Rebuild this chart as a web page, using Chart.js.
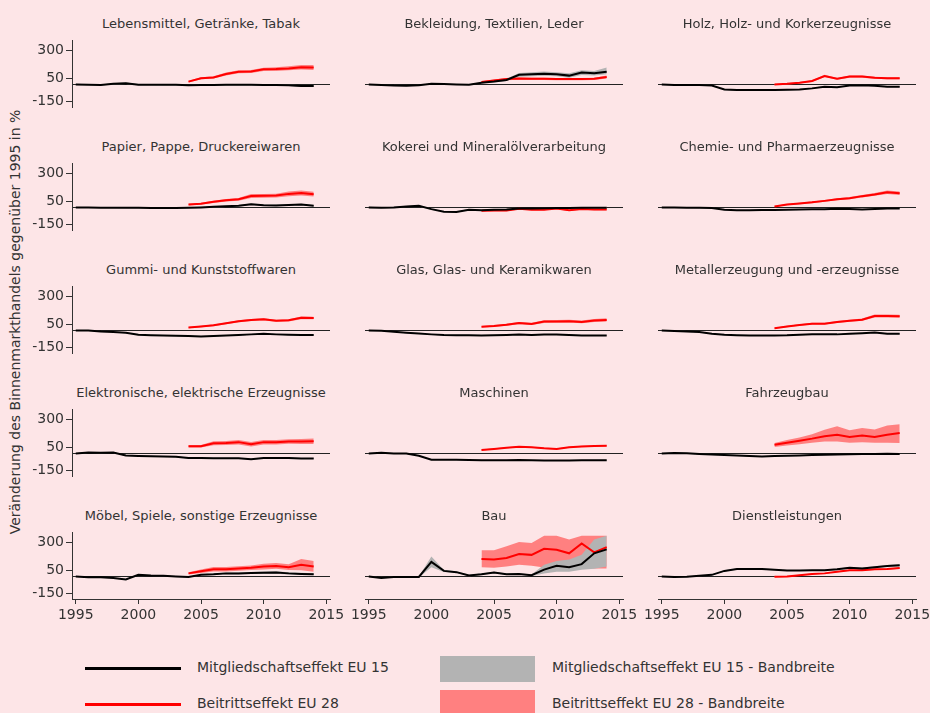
<!DOCTYPE html>
<html lang="de">
<head>
<meta charset="utf-8">
<script src="https://cdn.jsdelivr.net/npm/chart.js@4"></script>
<style>
  html, body { margin: 0; padding: 0; background: #fde5e7; }
  #wrap { position: relative; width: 930px; height: 713px; overflow: hidden; background: #fde5e7;
          font-family: "DejaVu Sans", sans-serif; color: #333; }
  canvas { position: absolute; }
  .ptitle { position: absolute; width: 320px; text-align: center; font-size: 13px; white-space: nowrap; }
  .ytitle { position: absolute; width: 560px; height: 18px; left: -264px; top: 313px; text-align: center;
            font-size: 14px; transform: rotate(-90deg); white-space: nowrap; }
  .leg { position: absolute; font-size: 14px; white-space: nowrap; }
  .legline { position: absolute; height: 3px; }
  .legbox { position: absolute; }
</style>
</head>
<body>
<div id="wrap">
  <div class="ytitle">Veränderung des Binnenmarkthandels gegenüber 1995 in %</div>
  <div class="legline" style="left:85px;top:667px;width:96px;background:#000"></div>
  <div class="leg" style="left:197px;top:659px">Mitgliedschaftseffekt EU 15</div>
  <div class="legline" style="left:85px;top:703px;width:96px;background:#ff0000"></div>
  <div class="leg" style="left:197px;top:695px">Beitrittseffekt EU 28</div>
  <div class="legbox" style="left:440px;top:656px;width:95px;height:26px;background:#b3b3b3"></div>
  <div class="leg" style="left:552px;top:659px">Mitgliedschaftseffekt EU 15 - Bandbreite</div>
  <div class="legbox" style="left:440px;top:690px;width:95px;height:26px;background:#ff8080"></div>
  <div class="leg" style="left:552px;top:695px">Beitrittseffekt EU 28 - Bandbreite</div>
</div>
<script>
// Panel titles (row by row, left to right)
const titles = [
  'Lebensmittel, Getränke, Tabak', 'Bekleidung, Textilien, Leder', 'Holz, Holz- und Korkerzeugnisse',
  'Papier, Pappe, Druckereiwaren', 'Kokerei und Mineralölverarbeitung', 'Chemie- und Pharmaerzeugnisse',
  'Gummi- und Kunststoffwaren', 'Glas, Glas- und Keramikwaren', 'Metallerzeugung und -erzeugnisse',
  'Elektronische, elektrische Erzeugnisse', 'Maschinen', 'Fahrzeugbau',
  'Möbel, Spiele, sonstige Erzeugnisse', 'Bau', 'Dienstleistungen'
];

const years = [1995,1996,1997,1998,1999,2000,2001,2002,2003,2004,2005,2006,2007,2008,2009,2010,2011,2012,2013,2014];
const years28 = [2004,2005,2006,2007,2008,2009,2010,2011,2012,2013,2014];
const xTicks = [1995, 2000, 2005, 2010, 2015];
const yTicks = [-150, 50, 300];

// Mitgliedschaftseffekt EU 15 (1995-2014)
const eu15Line = [
  [0,-3,-5,5,10,-2,-2,-3,-3,-8,-5,-5,-3,-3,-3,-5,-5,-8,-15,-15],
  [0,-5,-10,-12,-8,5,3,0,-2,15,25,40,85,90,95,90,78,105,98,112],
  [0,-5,-5,-5,-10,-45,-50,-50,-50,-50,-48,-45,-35,-20,-25,-10,-8,-12,-20,-20],
  [0,0,-2,-2,-3,-3,-4,-5,-5,-3,0,5,10,15,27,20,18,22,25,15],
  [0,-3,0,8,14,-15,-38,-40,-20,-25,-20,-18,-10,-10,-8,-5,-5,-3,-2,-2],
  [0,-1,-2,-3,-5,-20,-25,-24,-22,-22,-20,-18,-17,-16,-12,-15,-18,-14,-10,-10],
  [0,0,-10,-13,-20,-38,-42,-45,-48,-50,-53,-50,-46,-40,-35,-30,-35,-38,-40,-41],
  [0,-2,-12,-20,-28,-35,-40,-42,-43,-44,-42,-40,-37,-40,-37,-37,-40,-45,-45,-46],
  [0,-5,-10,-15,-30,-38,-42,-45,-45,-45,-43,-38,-35,-35,-35,-30,-25,-18,-30,-30],
  [0,8,6,8,-19,-22,-25,-28,-30,-41,-40,-42,-43,-43,-52,-40,-40,-40,-44,-46],
  [0,5,0,0,-20,-55,-55,-55,-58,-60,-60,-60,-58,-60,-62,-62,-62,-60,-60,-60],
  [0,4,2,-5,-10,-15,-18,-22,-28,-22,-20,-18,-15,-12,-10,-8,-6,-5,-3,-5],
  [0,-8,-8,-14,-27,14,8,5,0,-5,14,19,27,27,30,33,35,27,22,19],
  [0,-14,-5,-5,-5,128,49,38,8,19,35,19,22,11,60,95,82,109,205,240],
  [0,-5,-3,5,14,49,65,65,65,60,52,52,55,55,63,76,71,82,93,98]
];
const eu15Low = [
  [-5,-8,-10,0,4,-8,-8,-9,-9,-14,-11,-11,-9,-9,-9,-11,-12,-15,-22,-23],
  [-4,-9,-14,-16,-12,1,-1,-4,-6,10,18,30,68,72,76,72,60,84,78,90],
  [-4,-9,-9,-9,-14,-50,-55,-55,-55,-55,-53,-50,-40,-25,-30,-15,-13,-17,-25,-25],
  [-4,-4,-6,-6,-7,-7,-8,-9,-9,-7,-5,0,4,9,20,13,11,15,18,8],
  [-5,-8,-5,3,9,-20,-43,-45,-25,-30,-25,-23,-15,-15,-13,-10,-10,-8,-7,-7],
  [-4,-5,-6,-7,-9,-24,-29,-28,-26,-26,-24,-22,-21,-20,-16,-19,-22,-18,-14,-14],
  [-4,-4,-14,-17,-24,-42,-46,-49,-52,-54,-57,-54,-50,-44,-39,-34,-39,-42,-44,-45],
  [-4,-6,-16,-24,-32,-39,-44,-46,-47,-48,-46,-44,-41,-44,-41,-41,-44,-49,-49,-50],
  [-4,-9,-14,-19,-34,-42,-46,-49,-49,-49,-47,-42,-39,-39,-39,-34,-29,-22,-34,-34],
  [-4,4,2,4,-23,-26,-29,-32,-34,-45,-44,-46,-47,-47,-56,-44,-44,-44,-48,-50],
  [-4,1,-4,-4,-24,-59,-59,-59,-62,-64,-64,-64,-62,-64,-66,-66,-66,-64,-64,-64],
  [-4,0,-2,-9,-14,-19,-22,-26,-32,-26,-24,-22,-19,-16,-14,-12,-10,-9,-7,-9],
  [-4,-12,-12,-18,-31,10,4,1,-4,-9,9,13,20,19,21,23,24,16,12,10],
  [-5,-19,-10,-10,-10,82,40,30,2,12,28,12,15,4,27,41,41,60,68,87],
  [-4,-9,-7,1,10,44,60,60,60,55,47,47,50,50,57,69,64,74,85,88]
];
const eu15High = [
  [5,2,0,10,16,4,4,3,3,-2,1,1,3,3,3,1,2,0,-8,-7],
  [4,-1,-6,-8,-4,9,7,4,2,20,32,50,102,108,114,108,98,126,120,150],
  [4,-1,-1,-1,-6,-40,-45,-45,-45,-45,-43,-40,-30,-15,-20,-5,-3,-7,-15,-15],
  [4,4,2,2,1,1,0,-1,-1,1,5,10,16,21,34,27,25,29,32,22],
  [5,2,5,13,19,-10,-33,-35,-15,-20,-15,-13,-5,-5,-3,0,0,2,3,3],
  [4,3,2,1,-1,-16,-21,-20,-18,-18,-16,-14,-13,-12,-8,-11,-14,-10,-6,-6],
  [4,4,-6,-9,-16,-34,-38,-41,-44,-46,-49,-46,-42,-36,-31,-26,-31,-34,-36,-37],
  [4,2,-8,-16,-24,-31,-36,-38,-39,-40,-38,-36,-33,-36,-33,-33,-36,-41,-41,-42],
  [4,-1,-6,-11,-26,-34,-38,-41,-41,-41,-39,-34,-31,-31,-31,-26,-21,-14,-26,-26],
  [4,12,10,12,-15,-18,-21,-24,-26,-37,-36,-38,-39,-39,-48,-36,-36,-36,-40,-42],
  [4,9,4,4,-16,-51,-51,-51,-54,-56,-56,-56,-54,-56,-58,-58,-58,-56,-56,-56],
  [4,8,6,-1,-6,-11,-14,-18,-24,-18,-16,-14,-11,-8,-6,-4,-2,-1,1,-1],
  [4,-4,-4,-10,-23,18,12,9,4,-1,19,25,34,35,39,43,46,38,32,28],
  [5,-9,0,0,0,177,58,46,14,26,42,26,29,18,104,136,150,191,327,360],
  [4,-1,1,9,18,54,70,70,70,65,57,57,60,60,69,83,78,90,101,108]
];

// Beitrittseffekt EU 28 (2004-2014)
const eu28Line = [
  [25,55,62,93,113,115,134,136,142,153,150],
  [22,35,48,52,50,50,48,48,48,50,65],
  [0,5,15,30,75,50,70,70,60,55,55],
  [25,33,50,63,72,101,103,105,120,128,117],
  [-30,-28,-28,-12,-20,-20,-10,-25,-15,-18,-18],
  [8,25,35,45,58,72,82,100,115,135,125],
  [25,35,45,63,82,92,98,85,90,112,110],
  [33,40,50,65,58,78,80,82,75,88,93],
  [19,35,48,60,60,75,85,95,128,128,125],
  [63,63,90,92,100,82,100,100,105,105,108],
  [30,40,50,60,55,45,40,55,62,65,68],
  [76,95,112,131,153,166,145,158,145,166,180],
  [27,46,63,63,71,76,87,93,82,104,87],
  [155,150,164,199,191,245,237,205,292,213,259],
  [-3,0,11,22,27,41,55,55,63,65,74]
];
const eu28Low = [
  [18,46,52,80,100,102,120,120,125,133,128],
  [15,27,38,42,40,40,38,38,38,40,52],
  [-6,-1,8,22,65,42,60,60,51,46,46],
  [18,25,40,52,60,84,86,88,100,106,96],
  [-36,-34,-34,-18,-26,-26,-16,-31,-21,-24,-24],
  [3,19,28,38,50,63,72,89,103,120,110],
  [20,29,38,55,73,83,88,76,80,100,98],
  [26,32,41,55,48,66,68,70,63,74,78],
  [14,29,41,53,52,66,76,85,115,115,112],
  [52,52,72,74,80,62,80,80,85,83,84],
  [26,35,45,55,50,40,35,50,57,60,62],
  [58,70,82,95,105,105,95,100,95,95,92],
  [17,31,43,43,51,56,62,68,57,55,41],
  [82,76,87,104,95,80,70,70,75,70,70],
  [-7,-4,7,18,23,37,51,51,58,60,69]
];
const eu28High = [
  [32,64,72,106,126,128,148,152,160,173,172],
  [29,43,58,62,60,60,58,58,58,60,78],
  [6,11,22,38,85,58,80,80,69,64,64],
  [32,41,60,74,84,118,120,122,140,150,138],
  [-24,-22,-22,-6,-14,-14,-4,-19,-9,-12,-12],
  [13,31,42,52,66,81,92,111,127,150,140],
  [30,41,52,71,91,101,108,94,100,124,122],
  [40,48,59,75,68,90,92,94,87,102,108],
  [24,41,55,67,68,84,94,105,141,141,138],
  [74,74,108,110,120,102,120,120,125,127,132],
  [34,45,55,65,60,50,45,60,67,70,74],
  [92,118,140,170,210,240,205,226,213,248,259],
  [37,61,83,83,91,96,112,118,107,155,136],
  [232,232,267,305,295,360,360,327,360,360,360],
  [1,4,15,26,31,45,59,59,68,70,79]
];

// Layout of the small multiples
const colLeft = [72, 365, 658];
const rowTop = [35, 158, 281, 404, 527];
const plotW = 258, plotH = 72;
const axisW = 50, axisH = 28, padTop = 5, padRight = 22;

Chart.defaults.font.family = '"DejaVu Sans", sans-serif';
Chart.defaults.font.size = 14;
Chart.defaults.color = '#333';

function pts(xs, ys) {
  return xs.map((x, i) => ({ x: x, y: ys[i] }));
}

function bandSet(xs, ys, fill, color, order) {
  return {
    data: pts(xs, ys),
    fill: fill,
    backgroundColor: color,
    borderColor: 'transparent',
    borderWidth: 0,
    pointRadius: 0,
    order: order
  };
}

function lineSet(xs, ys, color, order) {
  return {
    data: pts(xs, ys),
    fill: false,
    borderColor: color,
    borderWidth: 2,
    pointRadius: 0,
    tension: 0,
    order: order
  };
}

const wrap = document.getElementById('wrap');

titles.forEach((title, i) => {
  const col = i % 3, row = Math.floor(i / 3);
  const showY = col === 0, showX = row === 4;
  const left = colLeft[col], top = rowTop[row];

  const t = document.createElement('div');
  t.className = 'ptitle';
  t.textContent = title;
  t.style.left = (left + plotW / 2 - 160) + 'px';
  t.style.top = (top - 19) + 'px';
  wrap.appendChild(t);

  const canvas = document.createElement('canvas');
  canvas.width = axisW + plotW + padRight;
  canvas.height = padTop + plotH + axisH;
  canvas.style.left = (left - axisW) + 'px';
  canvas.style.top = (top - padTop) + 'px';
  wrap.appendChild(canvas);

  new Chart(canvas.getContext('2d'), {
    type: 'line',
    data: {
      datasets: [
        bandSet(years, eu15High[i], '+1', '#b3b3b3', 3),
        bandSet(years, eu15Low[i], false, 'transparent', 3),
        bandSet(years28, eu28High[i], '+1', '#ff8080', 4),
        bandSet(years28, eu28Low[i], false, 'transparent', 4),
        lineSet(years28, eu28Line[i], '#ff0000', 2),
        lineSet(years, eu15Line[i], '#000000', 1)
      ]
    },
    options: {
      responsive: false,
      animation: false,
      events: [],
      layout: { padding: { top: padTop, right: padRight, left: 0, bottom: 0 } },
      plugins: { legend: { display: false }, tooltip: { enabled: false } },
      scales: {
        x: {
          type: 'linear',
          min: 1994.7,
          max: 2015.3,
          afterBuildTicks: axis => { axis.ticks = xTicks.map(v => ({ value: v })); },
          afterFit: axis => { axis.height = axisH; },
          ticks: {
            autoSkip: false,
            maxRotation: 0,
            padding: 3,
            color: showX ? '#333' : 'transparent',
            callback: v => String(v)
          },
          grid: {
            drawOnChartArea: false,
            tickLength: 5,
            color: showX ? '#333' : 'transparent'
          },
          border: { display: showX, color: '#333' }
        },
        y: {
          min: -200,
          max: 390,
          afterBuildTicks: axis => { axis.ticks = [...yTicks, 0].map(v => ({ value: v })); },
          afterFit: axis => { axis.width = axisW; },
          ticks: {
            autoSkip: false,
            padding: 2,
            color: showY ? '#333' : 'transparent',
            callback: v => (v === 0 ? '' : String(v))
          },
          grid: {
            drawOnChartArea: true,
            tickLength: 6,
            lineWidth: 1,
            color: ctx => (ctx.tick && ctx.tick.value === 0 ? '#222' : 'transparent'),
            tickColor: ctx => (showY && ctx.tick && ctx.tick.value !== 0 ? '#333' : 'transparent')
          },
          border: { display: showY, color: '#333' }
        }
      }
    }
  });
});
</script>
</body>
</html>
